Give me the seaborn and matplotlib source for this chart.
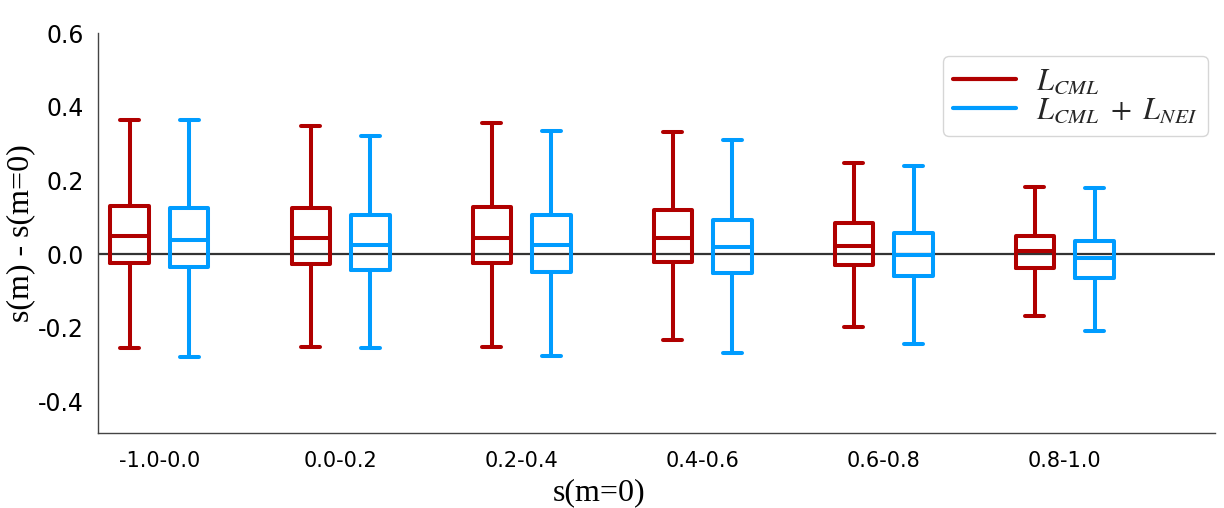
import numpy as np
import pandas as pd
import matplotlib
matplotlib.use('Agg')
import matplotlib.pyplot as plt
from matplotlib.lines import Line2D
import seaborn as sns

# bins of s(m=0)
groups = ['-1.0-0.0', '0.0-0.2', '0.2-0.4', '0.4-0.6', '0.6-0.8', '0.8-1.0']
models = ['CML', 'CML+NEI']

# box summaries: [whisker low, Q1, median, Q3, whisker high]
cml = [
    [-0.255, -0.025, 0.050, 0.130, 0.364],
    [-0.253, -0.027, 0.044, 0.124, 0.348],
    [-0.253, -0.024, 0.044, 0.127, 0.357],
    [-0.233, -0.021, 0.044, 0.119, 0.332],
    [-0.197, -0.031, 0.021, 0.083, 0.248],
    [-0.169, -0.037, 0.007, 0.050, 0.181],
]
cml_nei = [
    [-0.279, -0.035, 0.038, 0.125, 0.364],
    [-0.256, -0.043, 0.025, 0.105, 0.320],
    [-0.277, -0.049, 0.024, 0.105, 0.335],
    [-0.269, -0.051, 0.018, 0.092, 0.309],
    [-0.243, -0.061, -0.002, 0.058, 0.239],
    [-0.209, -0.064, -0.012, 0.034, 0.178],
]

colors = ['#B00000', '#009CFF']
legend_labels = [r'$L_{CML}$', r'$L_{CML}\ +\ L_{NEI}$']

# 5 values per box -> numpy quartiles hit Q1/median/Q3 exactly, whiskers go to min/max
rows = []
for model, stats in zip(models, [cml, cml_nei]):
    for g, vals in zip(groups, stats):
        for v in vals:
            rows.append((g, model, v))
df = pd.DataFrame(rows, columns=['s(m=0)', 'model', 'diff'])

sns.set_style('white')
plt.rcParams['mathtext.fontset'] = 'stix'
fig = plt.figure(figsize=(12.24, 5.08), dpi=100)
ax = fig.add_axes([0.080, 0.1476, 0.9126, 0.7874])

ax.axhline(0, color='#333333', lw=1.6, zorder=0)
sns.boxplot(data=df, x='s(m=0)', y='diff', hue='model', order=groups, hue_order=models,
            palette=colors, fill=False, whis=np.inf, width=0.66, gap=0.36,
            linewidth=2.9, ax=ax, legend=False)

ax.set_xlim(-0.34, 5.83)
ax.set_ylim(-0.486, 0.6)
ax.set_yticks([-0.4, -0.2, 0.0, 0.2, 0.4, 0.6])
ax.set_yticklabels(['-0.4', '-0.2', '0.0', '0.2', '0.4', '0.6'])
sns.despine(ax=ax)
for s in ['left', 'bottom']:
    ax.spines[s].set_color('#444444')
    ax.spines[s].set_linewidth(1.0)

ax.tick_params(axis='y', length=5, width=1, color='#444444', pad=5,
               labelsize=17, labelcolor='black')
ax.tick_params(axis='x', length=3, width=1, color='#444444', pad=10,
               labelsize=15, labelcolor='black')

ax.set_xlabel('s(m=0)', fontsize=23, family='Liberation Serif', color='black')
ax.xaxis.set_label_coords(0.449, -0.112)
ax.set_ylabel('s(m) - s(m=0)', fontsize=23, family='Liberation Serif', color='black')
ax.yaxis.set_label_coords(-0.056, 0.5)

handles = [Line2D([], [], color=c, lw=3) for c in colors]
ax.legend(handles, legend_labels, loc='upper right',
          bbox_to_anchor=(0.9937, 0.9425), borderaxespad=0, fontsize=22,
          handlelength=2.05, handletextpad=0.65, labelspacing=0.0, borderpad=0.35,
          frameon=True, fancybox=True, edgecolor='#cccccc')

fig.savefig('out.png', dpi=100)
